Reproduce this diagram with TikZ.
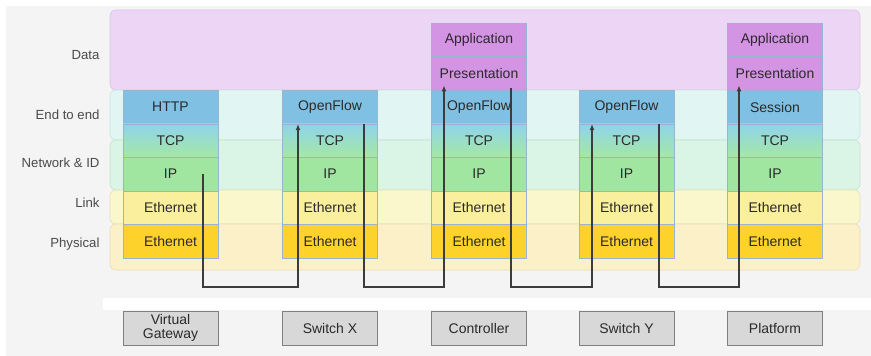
\documentclass[tikz,border=0pt]{standalone}
\usepackage{fontspec}
\setmainfont{Liberation Sans}
\usetikzlibrary{arrows.meta}

\definecolor{bggray}{HTML}{F4F4F4}
\definecolor{databand}{HTML}{EDD5F5}
\definecolor{databandline}{HTML}{DCC3E8}
\definecolor{e2eband}{HTML}{E1F6F3}
\definecolor{e2ebandline}{HTML}{C9E3E0}
\definecolor{netband}{HTML}{DAF5E6}
\definecolor{netbandline}{HTML}{C2E3CF}
\definecolor{linkband}{HTML}{FBF7CD}
\definecolor{linkbandline}{HTML}{E6E0B5}
\definecolor{physband}{HTML}{FCF0C9}
\definecolor{physbandline}{HTML}{E9DDB5}
\definecolor{appfill}{HTML}{D394E3}
\definecolor{sessfill}{HTML}{80C0E3}
\definecolor{tcptop}{HTML}{8FD3EC}
\definecolor{tcpbot}{HTML}{A5E8A3}
\definecolor{ipfill}{HTML}{A0E6A0}
\definecolor{ethlink}{HTML}{F9EF9D}
\definecolor{ethphys}{HTML}{FDD22A}
\definecolor{cellline}{HTML}{9BB3CC}
\definecolor{devfill}{HTML}{D8D8D8}
\definecolor{devline}{HTML}{808080}
\definecolor{textdark}{HTML}{2A2A2A}
\definecolor{labelgray}{HTML}{4A4A4A}
\definecolor{wire}{HTML}{3C3C3C}

\begin{document}
\begin{tikzpicture}[x=1pt,y=-1pt,
  band/.style={draw=#1, line width=0.6pt, rounded corners=6pt, minimum width=750pt, inner sep=0pt},
  cell/.style={draw=cellline, line width=0.5pt, minimum width=95pt, minimum height=33.57pt,
    inner sep=0pt, font=\fontsize{14}{15}\selectfont, text=textdark},
  rowlabel/.style={anchor=east, font=\fontsize{13.2}{15}\selectfont, text=labelgray},
  device/.style={draw=devline, fill=devfill, line width=0.9pt, minimum width=95pt, minimum height=34pt,
    inner sep=0pt, align=center, font=\fontsize{14}{14.5}\selectfont, text=textdark},
  conn/.style={draw=wire, line width=1.2pt, -{Latex[length=6pt,width=5pt]}}
]
\useasboundingbox (0,0) rectangle (871,356);

% backdrop
\fill[white] (0,0) rectangle (871,356);
\fill[bggray] (6,6) rectangle (871,356);
\fill[white] (103,298) rectangle (871,310);

% layer bands
\node[band=databandline, fill=databand, minimum height=80pt] (bdata) at (485,50) {};
\node[band=e2ebandline, fill=e2eband, minimum height=50pt] (be2e) at (485,115) {};
\node[band=netbandline, fill=netband, minimum height=50pt] (bnet) at (485,165) {};
\node[band=linkbandline, fill=linkband, minimum height=34pt] (blink) at (485,207) {};
\node[band=physbandline, fill=physband, minimum height=46pt] (bphys) at (485,247) {};

% band labels
\node[rowlabel] (ldata) at (103,55) {Data};
\node[rowlabel] (le2e) at (103,115) {End to end};
\node[rowlabel] (lnet) at (103,163) {Network \& ID};
\node[rowlabel] (llink) at (103,203) {Link};
\node[rowlabel] (lphys) at (103,244) {Physical};

% protocol stacks
\foreach \c/\x/\top in {1/170.5/HTTP, 2/330/OpenFlow, 3/479/OpenFlow, 4/626.5/OpenFlow, 5/775/Session}{
  \node[cell, fill=sessfill] (top\c) at (\x,107.0) {\top};
  \node[cell, top color=tcptop, bottom color=tcpbot] (tcp\c) at (\x,140.6) {TCP};
  \node[cell, fill=ipfill] (ip\c) at (\x,174.1) {IP};
  \node[cell, fill=ethlink] (ethl\c) at (\x,207.7) {Ethernet};
  \node[cell, fill=ethphys] (ethp\c) at (\x,241.3) {Ethernet};
}
\foreach \c/\x in {3/479, 5/775}{
  \node[cell, fill=appfill] (app\c) at (\x,39.8) {Application};
  \node[cell, fill=appfill] (pres\c) at (\x,73.4) {Presentation};
}

% devices
\node[device] (dev1) at (170.5,328) {Virtual\\Gateway};
\node[device] (dev2) at (330,328) {Switch X};
\node[device] (dev3) at (479,328) {Controller};
\node[device] (dev4) at (626.5,328) {Switch Y};
\node[device] (dev5) at (775,328) {Platform};

% message path
\coordinate (bus) at (0,287);
\coordinate (a1) at ([xshift=32.5pt]ip1.center);
\coordinate (b1) at ([xshift=-32pt]top2.south);
\coordinate (a2) at ([xshift=34pt]top2.south);
\coordinate (b2) at ([xshift=-35pt,yshift=5pt]pres3.south);
\coordinate (a3) at ([xshift=32pt,yshift=2pt]pres3.south);
\coordinate (b3) at ([xshift=-34.5pt]top4.south);
\coordinate (a4) at ([xshift=32.5pt]top4.south);
\coordinate (b4) at ([xshift=-36pt,yshift=5pt]pres5.south);

\draw[conn] (a1) -- (a1 |- bus) -| (b1);
\draw[conn] (a2) -- (a2 |- bus) -| (b2);
\draw[conn] (a3) -- (a3 |- bus) -| (b3);
\draw[conn] (a4) -- (a4 |- bus) -| (b4);
\end{tikzpicture}
\end{document}
